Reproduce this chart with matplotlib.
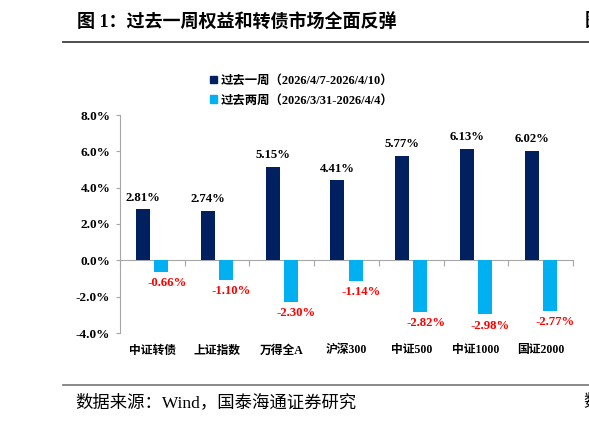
import matplotlib
matplotlib.use("Agg")
import matplotlib.pyplot as plt
import matplotlib.transforms as mtransforms
from matplotlib.patches import Patch
from matplotlib.lines import Line2D
import numpy as np

categories = ["中证转债", "上证指数", "万得全A", "沪深300", "中证500", "中证1000", "国证2000"]
past_one_week = [2.81, 2.74, 5.15, 4.41, 5.77, 6.13, 6.02]
past_two_weeks = [-0.66, -1.10, -2.30, -1.14, -2.82, -2.98, -2.77]
series_names = ["过去一周（2026/4/7-2026/4/10）", "过去两周（2026/3/31-2026/4/4）"]
yticks = [-4, -2, 0, 2, 4, 6, 8]

MIX = ["Liberation Serif", "Noto Sans CJK SC"]
DARK = "#002060"
LIGHT = "#00B0F0"
GREY = "#A6A6A6"

fig = plt.figure(figsize=(5.89, 4.22), dpi=100)
W, H = 589, 422
ax = fig.add_axes([120 / W, 1 - 333 / H, (573 - 120) / W, (333 - 115) / H])

x = np.arange(len(categories))
bw = 0.215
off = 0.14
ax.bar(x - off, past_one_week, width=bw, color=DARK, zorder=3)
ax.bar(x + off, past_two_weeks, width=bw, color=LIGHT, zorder=3)

ax.set_xlim(-0.5, len(categories) - 0.5)
ax.set_ylim(-4, 8)
ax.set_yticks(yticks)
ax.set_yticklabels([f"{v:.1f}%" for v in yticks], fontfamily="Liberation Serif",
                   fontweight="bold", fontsize=9.5)
ax.tick_params(axis="y", direction="out", length=3, color=GREY, pad=4)

for s in ["top", "right"]:
    ax.spines[s].set_visible(False)
ax.spines["left"].set_color(GREY)
ax.spines["bottom"].set_color(GREY)
ax.spines["bottom"].set_position(("data", 0))
ax.set_xticks(np.arange(len(categories) + 1) - 0.5)
ax.set_xticklabels([])
ax.tick_params(axis="x", direction="out", length=4, color=GREY)

trans = mtransforms.blended_transform_factory(ax.transData, ax.transAxes)
for i, c in enumerate(categories):
    ax.text(i, -0.08, c, transform=trans, ha="center", va="center",
            fontfamily=MIX, fontweight="bold", fontsize=8.5)

for i, v in enumerate(past_one_week):
    ax.annotate(f"{v:.2f}%", (i - off, v), xytext=(0, 4), textcoords="offset points",
                ha="center", va="bottom", fontfamily="Liberation Serif",
                fontweight="bold", fontsize=9.2, color="black")
for i, v in enumerate(past_two_weeks):
    ax.annotate(f"{v:.2f}%", (i + off, v), xytext=(4, -8), textcoords="offset points",
                ha="center", va="center", fontfamily="Liberation Serif",
                fontweight="bold", fontsize=9.2, color="#FF0000")

handles = [Patch(color=DARK), Patch(color=LIGHT)]
leg = fig.legend(handles, series_names, loc="upper left",
                 bbox_to_anchor=(210 / W, 1 - 75 / H), frameon=False,
                 prop={"family": MIX, "weight": "bold", "size": 8.9},
                 handlelength=0.55, handleheight=0.55, handletextpad=0.35,
                 labelspacing=0.6, borderpad=0, borderaxespad=0)

# title and footer
fig.text(77 / W, 1 - 22 / H, "图 1：过去一周权益和转债市场全面反弹", ha="left", va="center",
         fontfamily=MIX, fontweight="bold", fontsize=13)
fig.text(585 / W, 1 - 22 / H, "图", ha="left", va="center",
         fontfamily=MIX, fontweight="bold", fontsize=13)
fig.add_artist(Line2D([63 / W, 1], [1 - 41.5 / H, 1 - 41.5 / H], color="#404040", lw=1.3,
                      transform=fig.transFigure))
fig.add_artist(Line2D([63 / W, 1], [1 - 384.5 / H, 1 - 384.5 / H], color="#808080", lw=1.3,
                      transform=fig.transFigure))
fig.text(75 / W, 1 - 403 / H, "数据来源：Wind，国泰海通证券研究", ha="left", va="center",
         fontfamily=MIX, fontsize=12.5)
fig.text(583 / W, 1 - 403 / H, "数", ha="left", va="center",
         fontfamily=MIX, fontsize=12.5)

fig.savefig("out.png", dpi=100)
